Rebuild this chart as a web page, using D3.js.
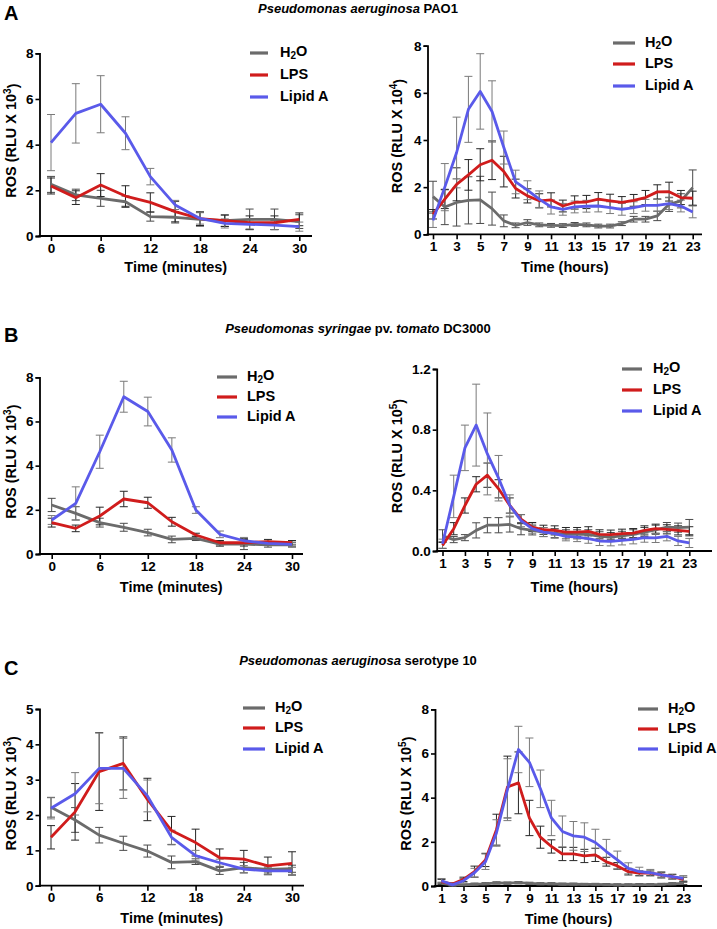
<!DOCTYPE html>
<html><head><meta charset="utf-8">
<script src="https://cdn.jsdelivr.net/npm/d3@7/dist/d3.min.js"></script>
<style>
body{margin:0;background:#fff}
svg text{font-family:"Liberation Sans",Arial,sans-serif;font-weight:bold;fill:#000}
</style>
</head><body>
<svg id="chart" width="717" height="929"></svg>
<script>
// ---------- categories / tick labels ----------
const minutes = [0,3,6,9,12,15,18,21,24,27,30];
const hours = [1,2,3,4,5,6,7,8,9,10,11,12,13,14,15,16,17,18,19,20,21,22,23];
const minuteTicks = [0,6,12,18,24,30];
const hourTicks = [1,3,5,7,9,11,13,15,17,19,21,23];
const seriesNames = ["H2O","LPS","Lipid A"];

// ---------- Panel A (P. aeruginosa PAO1) ----------
const aMinH2O    = [2.26,1.80,1.65,1.50,0.85,0.82,0.73,0.67,0.73,0.73,0.63];
const aMinH2OErr = [0.35,0.25,0.35,0.25,0.20,0.25,0.30,0.25,0.45,0.45,0.30];
const aMinLPS    = [2.19,1.68,2.23,1.75,1.47,1.07,0.76,0.67,0.58,0.58,0.73];
const aMinLPSErr = [0.35,0.30,0.50,0.45,0.42,0.45,0.30,0.25,0.30,0.30,0.28];
const aMinLipA   = [4.09,5.37,5.77,4.50,2.60,1.36,0.77,0.55,0.51,0.48,0.41];
const aMinLipAErr= [1.23,1.30,1.25,0.72,0.36,0.20,0.25,0.20,0.20,0.20,0.20];

const aHrH2O     = [1.60,1.16,1.35,1.44,1.46,1.09,0.57,0.38,0.50,0.40,0.38,0.37,0.42,0.40,0.35,0.35,0.45,0.64,0.64,0.78,1.27,1.42,1.98];
const aHrH2OErr  = [0.65,0.75,1.00,1.00,1.00,0.70,0.25,0.10,0.12,0.08,0.08,0.08,0.08,0.08,0.08,0.08,0.08,0.12,0.12,0.20,0.30,0.30,0.75];
const aHrLPS     = [0.85,1.49,2.12,2.52,2.95,3.14,2.66,1.94,1.63,1.42,1.46,1.20,1.35,1.37,1.49,1.42,1.35,1.44,1.56,1.80,1.81,1.56,1.53];
const aHrLPSErr  = [0.20,0.40,0.70,0.65,0.68,0.82,0.65,0.40,0.30,0.30,0.30,0.25,0.28,0.28,0.28,0.28,0.25,0.25,0.30,0.30,0.40,0.30,0.30];
const aHrLipA    = [0.59,2.00,3.47,5.30,6.06,5.21,3.68,2.22,1.87,1.49,1.16,1.06,1.16,1.19,1.20,1.13,1.06,1.13,1.23,1.23,1.30,1.20,0.95];
const aHrLipAErr = [0.30,1.00,1.50,1.40,1.60,1.30,0.70,0.50,0.40,0.35,0.30,0.25,0.25,0.25,0.25,0.25,0.25,0.25,0.25,0.25,0.25,0.25,0.25];

// ---------- Panel B (P. syringae pv. tomato DC3000) ----------
const bMinH2O    = [2.22,1.84,1.42,1.21,0.97,0.66,0.71,0.45,0.45,0.41,0.41];
const bMinH2OErr = [0.30,0.30,0.20,0.18,0.15,0.15,0.10,0.10,0.25,0.10,0.10];
const bMinLPS    = [1.42,1.16,1.72,2.49,2.32,1.46,0.86,0.51,0.51,0.56,0.51];
const bMinLPSErr = [0.20,0.15,0.40,0.35,0.25,0.20,0.08,0.10,0.15,0.10,0.10];
const bMinLipA   = [1.54,2.29,4.63,7.12,6.45,4.71,1.99,0.89,0.60,0.48,0.44];
const bMinLipAErr= [0.20,0.75,0.75,0.70,0.65,0.55,0.15,0.15,0.15,0.10,0.10];

const bHrH2O     = [0.100,0.075,0.088,0.136,0.170,0.170,0.175,0.147,0.136,0.125,0.118,0.110,0.110,0.110,0.097,0.092,0.100,0.110,0.125,0.140,0.158,0.154,0.158];
const bHrH2OErr  = [0.04,0.02,0.02,0.05,0.05,0.05,0.05,0.04,0.03,0.03,0.03,0.03,0.03,0.03,0.03,0.03,0.03,0.03,0.03,0.03,0.03,0.03,0.05];
const bHrLPS     = [0.037,0.147,0.300,0.440,0.500,0.410,0.300,0.210,0.158,0.140,0.136,0.125,0.125,0.130,0.110,0.108,0.114,0.118,0.136,0.147,0.143,0.136,0.130];
const bHrLPSErr  = [0.02,0.04,0.05,0.05,0.08,0.06,0.05,0.03,0.03,0.03,0.03,0.03,0.03,0.03,0.03,0.03,0.03,0.03,0.03,0.03,0.03,0.03,0.03];
const bHrLipA    = [0.048,0.360,0.680,0.830,0.640,0.480,0.300,0.200,0.147,0.125,0.114,0.097,0.092,0.081,0.066,0.064,0.070,0.077,0.088,0.086,0.097,0.066,0.053];
const bHrLipAErr = [0.03,0.14,0.15,0.27,0.27,0.15,0.07,0.04,0.03,0.03,0.03,0.03,0.03,0.03,0.03,0.03,0.03,0.03,0.03,0.03,0.03,0.03,0.03];

// ---------- Panel C (P. aeruginosa serotype 10) ----------
const cMinH2O    = [2.22,1.86,1.43,1.20,0.98,0.66,0.68,0.42,0.51,0.46,0.48];
const cMinH2OErr = [0.28,0.35,0.22,0.20,0.17,0.18,0.08,0.10,0.15,0.10,0.10];
const cMinLPS    = [1.37,2.09,3.23,3.46,2.44,1.56,1.22,0.79,0.75,0.56,0.63];
const cMinLPSErr = [0.33,0.80,1.10,0.75,0.60,0.40,0.38,0.25,0.25,0.25,0.33];
const cMinLipA   = [2.19,2.60,3.32,3.32,2.54,1.37,0.85,0.65,0.47,0.42,0.42];
const cMinLipAErr= [0.30,0.60,1.00,0.85,0.45,0.20,0.15,0.10,0.10,0.10,0.10];

const cHrH2O     = [0.12,0.05,0.05,0.08,0.10,0.14,0.13,0.15,0.12,0.10,0.10,0.08,0.08,0.07,0.07,0.06,0.05,0.05,0.06,0.06,0.07,0.10,0.12];
const cHrH2OErr  = [0.05,0.03,0.03,0.05,0.05,0.05,0.05,0.05,0.05,0.05,0.05,0.05,0.05,0.05,0.05,0.05,0.05,0.05,0.05,0.05,0.05,0.05,0.05];
const cHrLPS     = [0.20,0.09,0.30,0.65,1.18,2.55,4.48,4.67,3.08,2.21,1.79,1.45,1.45,1.36,1.41,1.10,0.91,0.65,0.58,0.58,0.50,0.42,0.30];
const cHrLPSErr  = [0.10,0.05,0.10,0.25,0.30,0.70,1.40,1.40,0.80,0.50,0.30,0.30,0.30,0.30,0.30,0.20,0.15,0.15,0.10,0.10,0.10,0.10,0.10];
const cHrLipA    = [0.24,0.05,0.24,0.60,1.10,2.40,4.36,6.18,5.60,4.40,3.08,2.47,2.27,2.21,1.97,1.56,1.18,0.80,0.65,0.60,0.50,0.42,0.35];
const cHrLipAErr = [0.10,0.05,0.10,0.20,0.35,0.60,1.40,1.05,1.10,0.85,0.80,0.70,0.65,0.65,0.60,0.55,0.40,0.25,0.20,0.15,0.15,0.12,0.12];

// ---------- styling ----------
const lineColors = ["#6b6b6b","#d01c1c","#5a5aea"];
const barColors  = ["#4a4a4a","#262626","#7a7a7a"];

// ---------- layout (pixels) ----------
const panels = [
  {x:minutes, s:[aMinH2O,aMinLPS,aMinLipA], e:[aMinH2OErr,aMinLPSErr,aMinLipAErr], ymax:8, yticks:[0,2,4,6,8], fmt:d3.format("d"), exp:"3",
   axX:39.5, xr:[51,299.3], xd:[0,30], xEnd:312, yr:[236,53.3], xticks:minuteTicks, xtitle:"Time (minutes)", xtY:268, ytX:12,
   leg:{x1:250,x2:268,tx:280,y:[53,75,97]}},
  {x:hours, s:[aHrH2O,aHrLPS,aHrLipA], e:[aHrH2OErr,aHrLPSErr,aHrLipAErr], ymax:8, yticks:[0,2,4,6,8], fmt:d3.format("d"), exp:"4",
   axX:427.5, xr:[433,692.7], xd:[1,23], xEnd:702, yr:[234.3,45.7], xticks:hourTicks, xtitle:"Time (hours)", xtY:268, ytX:398,
   leg:{x1:613,x2:635,tx:645,y:[43,64,86]}},
  {x:minutes, s:[bMinH2O,bMinLPS,bMinLipA], e:[bMinH2OErr,bMinLPSErr,bMinLipAErr], ymax:8, yticks:[0,2,4,6,8], fmt:d3.format("d"), exp:"3",
   axX:39.5, xr:[51.7,292], xd:[0,30], xEnd:303, yr:[554,377.3], xticks:minuteTicks, xtitle:"Time (minutes)", xtY:588, ytX:12,
   leg:{x1:217,x2:237,tx:247,y:[377,397,417]}},
  {x:hours, s:[bHrH2O,bHrLPS,bHrLipA], e:[bHrH2OErr,bHrLPSErr,bHrLipAErr], ymax:1.2, yticks:[0,0.4,0.8,1.2], fmt:d3.format(".1f"), exp:"5",
   axX:436.7, xr:[442.5,689.3], xd:[1,23], xEnd:712, yr:[551,369], xticks:hourTicks, xtitle:"Time (hours)", xtY:588, ytX:398,
   leg:{x1:622,x2:642,tx:653,y:[369,390,411]}},
  {x:minutes, s:[cMinH2O,cMinLPS,cMinLipA], e:[cMinH2OErr,cMinLPSErr,cMinLipAErr], ymax:5, yticks:[0,1,2,3,4,5], fmt:d3.format("d"), exp:"3",
   axX:39.5, xr:[51,292], xd:[0,30], xEnd:304, yr:[885.7,709], xticks:minuteTicks, xtitle:"Time (minutes)", xtY:919, ytX:12,
   leg:{x1:243,x2:265,tx:275,y:[708,728,749]}},
  {x:hours, s:[cHrH2O,cHrLPS,cHrLipA], e:[cHrH2OErr,cHrLPSErr,cHrLipAErr], ymax:8, yticks:[0,2,4,6,8], fmt:d3.format("d"), exp:"5",
   axX:435, xr:[441.5,683.3], xd:[1,23], xEnd:702, yr:[886,709.3], xticks:hourTicks, xtitle:"Time (hours)", xtY:920, ytX:407,
   leg:{x1:638,x2:658,tx:668,y:[709,729,749]}}
];

const svg = d3.select("#chart");

panels.forEach(p => {
  const x = d3.scaleLinear().domain(p.xd).range(p.xr);
  const y = d3.scaleLinear().domain([0,p.ymax]).range(p.yr);
  const g = svg.append("g");

  // Y axis
  const ya = g.append("g").attr("transform",`translate(${p.axX},0)`)
    .call(d3.axisLeft(y).tickValues(p.yticks).tickFormat(p.fmt).tickSize(4).tickPadding(2));
  ya.selectAll("text").style("font-size","13.5px");
  ya.select(".domain").attr("stroke-width",1.8);
  ya.selectAll(".tick line").attr("stroke-width",1.6);

  // X axis line
  const base = p.yr[0];
  g.append("line").attr("x1",p.axX-0.9).attr("x2",p.xEnd).attr("y1",base).attr("y2",base)
    .attr("stroke","#000").attr("stroke-width",1.8);
  const xa = g.append("g").attr("transform",`translate(0,${base})`)
    .call(d3.axisBottom(x).tickValues(p.xticks).tickFormat(d3.format("d")).tickSize(5).tickPadding(2));
  xa.select(".domain").remove();
  xa.selectAll("text").style("font-size","13.5px");
  xa.selectAll(".tick line").attr("stroke-width",1.6);

  // axis titles
  g.append("text").attr("x",(p.axX+p.xEnd)/2).attr("y",p.xtY).attr("text-anchor","middle")
    .attr("dominant-baseline","middle").style("font-size","14.5px").text(p.xtitle);
  const yc = (p.yr[0]+p.yr[1])/2 - 4;
  const yt = g.append("text").attr("transform",`translate(${p.ytX},${yc}) rotate(-90)`)
    .attr("text-anchor","middle").attr("dominant-baseline","middle").style("font-size","14.5px");
  yt.append("tspan").text("ROS (RLU X 10");
  yt.append("tspan").attr("dy","-0.45em").style("font-size","10px").text(p.exp);
  yt.append("tspan").attr("dy","0.45em").text(")");

  // error bars
  p.s.forEach((vals,si) => {
    const errs = p.e[si];
    const eb = g.append("g").attr("stroke",barColors[si]).attr("stroke-width",1).attr("fill","none");
    vals.forEach((v,i) => {
      const xi = x(p.x[i]), y1 = y(v+errs[i]), y0 = y(Math.max(0,v-errs[i]));
      eb.append("line").attr("x1",xi).attr("x2",xi).attr("y1",y1).attr("y2",y0);
      eb.append("line").attr("x1",xi-4).attr("x2",xi+4).attr("y1",y1).attr("y2",y1);
      eb.append("line").attr("x1",xi-4).attr("x2",xi+4).attr("y1",y0).attr("y2",y0);
    });
  });

  // lines
  p.s.forEach((vals,si) => {
    const line = d3.line().x((d,i)=>x(p.x[i])).y(d=>y(d));
    g.append("path").datum(vals).attr("d",line).attr("fill","none")
      .attr("stroke",lineColors[si]).attr("stroke-width",2.8).attr("stroke-linejoin","round");
  });

  // legend
  seriesNames.forEach((n,si) => {
    const ly = p.leg.y[si];
    g.append("line").attr("x1",p.leg.x1).attr("x2",p.leg.x2).attr("y1",ly).attr("y2",ly)
      .attr("stroke",lineColors[si]).attr("stroke-width",3.2);
    const t = g.append("text").attr("x",p.leg.tx).attr("y",ly).attr("dominant-baseline","middle").style("font-size","14.5px");
    if (n === "H2O") {
      t.append("tspan").text("H");
      t.append("tspan").attr("dy","0.3em").style("font-size","10px").text("2");
      t.append("tspan").attr("dy","-0.3em").text("O");
    } else t.text(n);
  });
});

// panel letters and titles
const letters = [{t:"A",y:15},{t:"B",y:337},{t:"C",y:670}];
letters.forEach(l => svg.append("text").attr("x",4).attr("y",l.y).attr("dominant-baseline","middle")
  .style("font-size","20px").text(l.t));

const titles = [
  {y:10, parts:[["Pseudomonas aeruginosa",true],[" PAO1",false]]},
  {y:330, parts:[["Pseudomonas syringae",true],[" pv. ",false],["tomato",true],[" DC3000",false]]},
  {y:662, parts:[["Pseudomonas aeruginosa",true],[" serotype 10",false]]}
];
titles.forEach(tt => {
  const t = svg.append("text").attr("x",358).attr("y",tt.y).attr("text-anchor","middle")
    .attr("dominant-baseline","middle").style("font-size","13px");
  tt.parts.forEach(([s,it]) => t.append("tspan").style("font-style",it?"italic":"normal").text(s));
});
</script>
</body></html>
